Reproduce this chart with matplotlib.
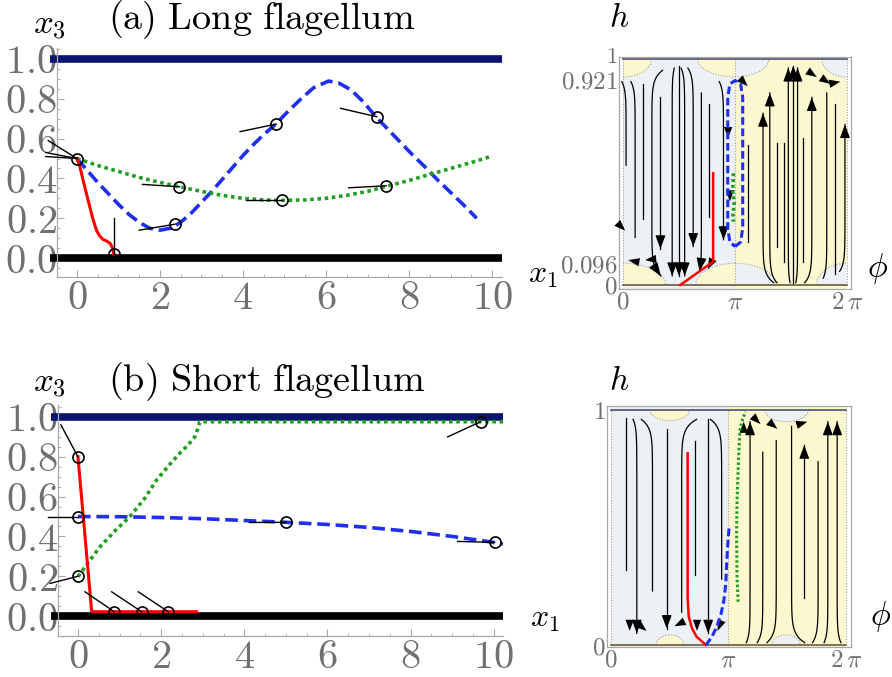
import numpy as np
import matplotlib
matplotlib.use("Agg")
import matplotlib.pyplot as plt
from matplotlib.transforms import ScaledTranslation

plt.rcParams['mathtext.fontset'] = 'cm'
plt.rcParams['font.family'] = ['DejaVu Serif']

W, H = 892, 677
PI = np.pi

# ---------------- data: panel (a) ----------------
blue_a_x = [0, 0.25, 0.5, 0.75, 1.0, 1.25, 1.5, 1.75, 2.0, 2.25, 2.5, 2.75, 3.0, 3.25, 3.5, 3.75, 4.0,
            4.25, 4.5, 4.8, 5.1, 5.4, 5.7, 6.06, 6.3, 6.6, 6.9, 7.2, 7.5, 7.8, 8.1, 8.4, 8.7, 9.0, 9.3, 9.63]
blue_a_y = [0.5, 0.44, 0.38, 0.325, 0.27, 0.22, 0.18, 0.15, 0.14, 0.15, 0.18, 0.225, 0.28, 0.335, 0.395,
            0.455, 0.515, 0.57, 0.62, 0.675, 0.74, 0.80, 0.855, 0.889, 0.88, 0.845, 0.785, 0.71, 0.645,
            0.58, 0.515, 0.455, 0.39, 0.33, 0.27, 0.20]
green_a_x = [0, 0.5, 1, 1.5, 2, 2.47, 3, 3.5, 4, 4.5, 4.93, 5.5, 6, 6.5, 7, 7.45, 8, 8.5, 9, 9.5, 9.95]
green_a_y = [0.5, 0.465, 0.435, 0.405, 0.38, 0.358, 0.335, 0.315, 0.3, 0.292, 0.29, 0.292, 0.3, 0.315,
             0.335, 0.36, 0.39, 0.42, 0.45, 0.48, 0.509]
red_a_x = [0, 0.07, 0.15, 0.27, 0.38, 0.47, 0.55, 0.63, 0.72, 0.8, 0.86, 0.89]
red_a_y = [0.5, 0.46, 0.39, 0.29, 0.2, 0.14, 0.11, 0.094, 0.085, 0.074, 0.05, 0.02]
circ_a_x = [0, 0.89, 2.47, 2.36, 4.8, 4.93, 7.22, 7.45]
circ_a_y = [0.5, 0.02, 0.358, 0.17, 0.673, 0.29, 0.71, 0.363]
seg_a_x0 = [0, 0, 0, 0.89, 2.47, 2.36, 4.8, 4.93, 7.22, 7.45]
seg_a_y0 = [0.5, 0.5, 0.5, 0.02, 0.358, 0.17, 0.673, 0.29, 0.71, 0.363]
seg_a_x1 = [-0.69, -0.75, -0.75, 0.89, 1.58, 1.5, 3.93, 4.07, 6.35, 6.55]
seg_a_y1 = [0.59, 0.53, 0.51, 0.2, 0.37, 0.14, 0.635, 0.29, 0.752, 0.353]

# ---------------- data: panel (b) ----------------
red_b_x = [0, 0.33, 2.85]
red_b_y = [0.8, 0.022, 0.022]
blue_b_x = [0, 1, 2, 3, 4, 5, 6, 7, 8, 9, 10, 10.22]
blue_b_y = [0.5, 0.499, 0.495, 0.489, 0.48, 0.471, 0.46, 0.445, 0.425, 0.4, 0.37, 0.362]
green_b_x = [0, 0.25, 0.53, 0.9, 1.25, 1.6, 1.89, 2.2, 2.45, 2.65, 2.81, 2.88, 2.93, 10.24]
green_b_y = [0.198, 0.27, 0.348, 0.43, 0.5, 0.59, 0.683, 0.76, 0.818, 0.86, 0.9, 0.94, 0.976, 0.976]
circ_b_x = [0, 0, 0, 0.87, 1.53, 2.17, 5.0, 10.02, 9.68]
circ_b_y = [0.8, 0.5, 0.2, 0.022, 0.022, 0.022, 0.471, 0.37, 0.976]
seg_b_x1 = [-0.41, -0.73, -0.67, 0.17, 0.81, 1.45, 4.12, 9.13, 8.89]
seg_b_y1 = [0.96, 0.5, 0.164, 0.122, 0.122, 0.122, 0.47, 0.375, 0.9]

# ---------------- data: phase plots ----------------
red_pa_phi = [1.61, 2.53, 2.53]
red_pa_h = [0.0, 0.103, 0.494]
blue_pa_phi = [3.15, 3.30, 3.36, 3.36, 3.30, 3.15, 3.00, 2.94, 2.94, 3.00, 3.15]
blue_pa_h = [0.17, 0.19, 0.25, 0.83, 0.89, 0.905, 0.89, 0.83, 0.25, 0.19, 0.17]
green_pa_phi = [3.10, 3.08, 3.12, 3.08, 3.10]
green_pa_h = [0.494, 0.42, 0.36, 0.30, 0.28]

red_pb_phi = [2.05, 2.05, 2.08, 2.17, 2.29, 2.54]
red_pb_h = [0.816, 0.20, 0.12, 0.07, 0.035, 0.0]
blue_pb_phi = [2.54, 2.70, 2.83, 2.94, 3.02, 3.07, 3.09, 3.12, 3.16]
blue_pb_h = [0.0, 0.035, 0.078, 0.13, 0.19, 0.26, 0.333, 0.42, 0.503]
green_pb_phi = [3.40, 3.37, 3.36, 3.37, 3.39, 3.42, 3.45, 3.52, 3.60]
green_pb_h = [0.184, 0.3, 0.475, 0.6, 0.70, 0.82, 0.915, 0.96, 0.993]

# streamlines: (phi, h_from, h_to, hook_start, hook_end, arrow)
stream_a = [
    (0.085, 0.90, 0.53, -0.12, 0, 0), (0.34, 0.90, 0.21, -0.12, 0, 0), (0.56, 0.89, 0.29, 0, 0, 0),
    (0.81, 0.95, 0.04, 0.3, 0.25, 1), (1.05, 0.83, 0.16, 0, 0, 1), (1.38, 0.96, 0.04, 0.06, 0, 1),
    (1.57, 0.97, 0.04, 0, 0, 1), (1.73, 0.96, 0.04, -0.1, 0, 1), (1.97, 0.96, 0.17, -0.15, 0, 1),
    (2.20, 0.85, 0.06, 0, -0.05, 1), (2.40, 0.80, 0.30, 0, 0, 0), (2.82, 0.90, 0.20, -0.12, 0, 1),
    (3.52, 0.19, 0.62, 0, 0, 0), (3.93, 0.01, 0.76, 0.3, 0, 1), (4.12, 0.01, 0.85, 0.2, 0, 1),
    (4.33, 0.17, 0.63, 0, 0, 0), (4.51, 0.10, 0.63, 0, 0, 0), (4.64, 0.01, 0.96, 0.05, 0, 1),
    (4.78, 0.01, 0.97, 0, 0, 1), (4.90, 0.01, 0.96, -0.05, 0, 1), (5.06, 0.10, 0.65, 0, 0, 0),
    (5.30, 0.01, 0.83, -0.2, 0, 1), (5.72, 0.03, 0.85, -0.1, 0, 0), (5.95, 0.05, 0.80, 0, 0, 0),
    (6.23, 0.06, 0.71, -0.15, 0, 1),
]
arrows_a = [(0.06, 0.24, 0.3, -0.3), (0.15, 0.11, -1, 0.2), (0.62, 0.11, -1, -0.1), (2.38, 0.07, -0.5, -1),
            (2.95, 0.65, 0, -1), (3.00, 0.37, 0, -1), (3.5, 0.88, 0.4, -0.4), (5.44, 0.92, 0.6, -0.4),
            (5.82, 0.89, 0.6, -0.4), (6.1, 0.90, 1, 0.2)]
stream_b = [
    (0.40, 0.965, 0.32, 0, 0, 0), (0.69, 0.96, 0.05, -0.1, 0, 1), (1.11, 0.96, 0.23, -0.3, 0, 0),
    (1.49, 0.92, 0.07, 0, 0, 1), (1.89, 0.96, 0.14, 0.4, 0, 0), (2.25, 0.87, 0.30, 0, 0, 0),
    (2.60, 0.96, 0.05, 0, 0, 1), (2.96, 0.96, 0.28, -0.3, 0, 0),
    (3.72, 0.01, 0.95, -0.1, 0, 1), (4.06, 0.01, 0.82, -0.15, 0, 0), (4.42, 0.01, 0.87, -0.25, 0, 0),
    (4.83, 0.01, 0.93, 0.35, 0, 0), (5.17, 0.20, 0.85, 0, 0, 1), (5.54, 0.01, 0.78, -0.15, 0, 0),
    (5.80, 0.01, 0.95, -0.1, 0, 1), (6.05, 0.01, 0.95, 0.1, 0, 1),
]
arrows_b = [(0.50, 0.06, 0, -1), (0.95, 0.06, 0.6, -0.5), (1.70, 0.08, -0.6, -0.3), (2.30, 0.06, 0, -1),
            (2.85, 0.06, -0.4, -1), (3.55, 0.95, 0, 1), (4.0, 0.94, 0.5, -0.5), (4.45, 0.92, 0.6, -0.5),
            (5.25, 0.95, 1, 0.3)]

# bumps: (center, half width, depth, top?, colour)
YEL = '#fbf8cf'
GRY = '#edf0f5'
bumps_a = [(0, 1.2, 0.096, 0, YEL), (PI, 1.1, 0.096, 0, 'L'), (0, 0.8, 0.079, 1, YEL), (PI, 1.05, 0.079, 1, 'L'),
           (PI, 1.15, 0.096, 0, 'R'), (2 * PI, 0.85, 0.096, 0, GRY), (PI, 0.95, 0.079, 1, 'R'),
           (2 * PI, 0.7, 0.079, 1, GRY)]
bumps_b = [(1.57, 0.53, 0.045, 1, YEL), (1.58, 0.37, 0.043, 0, YEL), (4.70, 0.58, 0.05, 1, GRY),
           (4.68, 0.38, 0.043, 0, GRY)]

COL_BLUE = '#1f2ff0'
COL_GREEN = '#1f9e1f'
COL_RED = '#ff0000'
COL_NAVY = '#0b1470'
TICKC = '#707070'
SPC = '#a8a8a8'


def rm(s):
    return r'$\mathrm{' + s + '}$'


fig = plt.figure(figsize=(W / 100, H / 100), dpi=100)


def left_panel(rect, xlim, ylim):
    ax = fig.add_axes(rect)
    ax.set_xlim(*xlim)
    ax.set_ylim(*ylim)
    for s in ['top', 'right']:
        ax.spines[s].set_visible(False)
    for s in ['left', 'bottom']:
        ax.spines[s].set_color(SPC)
        ax.spines[s].set_linewidth(0.9)
    ax.set_xticks([0, 2, 4, 6, 8, 10], [rm(str(v)) for v in [0, 2, 4, 6, 8, 10]])
    ax.set_yticks([0, 0.2, 0.4, 0.6, 0.8, 1.0], [rm('%.1f' % v) for v in [0, 0.2, 0.4, 0.6, 0.8, 1.0]])
    ax.set_xticks(np.arange(-0.0, 10.3, 0.5), minor=True)
    ax.set_yticks(np.arange(-0.05, 1.06, 0.05), minor=True)
    ax.tick_params(which='major', direction='in', length=5, color=SPC, labelcolor=TICKC, labelsize=29)
    ax.tick_params(which='minor', direction='in', length=2.5, color=SPC)
    ax.tick_params(axis='y', pad=0)
    ax.tick_params(axis='x', pad=2)
    ax.patch.set_alpha(0)
    return ax


# ---------- panel (a) left ----------
axA = left_panel([57 / W, 1 - 277 / H, 445 / W, 229 / H], (-0.48, 10.24), (-0.095, 1.055))
axA.plot([-0.65, 10.24], [1.0, 1.0], color=COL_NAVY, lw=5.5, solid_capstyle='butt', clip_on=False, zorder=2)
axA.plot([-0.65, 10.24], [0.0, 0.0], color='black', lw=5.5, solid_capstyle='butt', clip_on=False, zorder=2)
axA.plot(blue_a_x, blue_a_y, color=COL_BLUE, lw=2.6, ls=(0, (3.5, 1.6)), zorder=3)
axA.plot(green_a_x, green_a_y, color=COL_GREEN, lw=2.6, ls=(0, (1, 1)), zorder=3)
axA.plot(red_a_x, red_a_y, color=COL_RED, lw=2.2, zorder=3)
for x0, y0, x1, y1 in zip(seg_a_x0, seg_a_y0, seg_a_x1, seg_a_y1):
    axA.plot([x0, x1], [y0, y1], color='black', lw=1.0, clip_on=False, zorder=4)
axA.plot(circ_a_x, circ_a_y, 'o', mfc='none', mec='black', ms=8, mew=1.2, zorder=5, clip_on=False)

# ---------- panel (b) left ----------
axB = left_panel([58 / W, 1 - 636 / H, 445 / W, 231 / H], (-0.48, 10.22), (-0.1, 1.06))
axB.plot([-0.65, 10.22], [1.0, 1.0], color=COL_NAVY, lw=5.5, solid_capstyle='butt', clip_on=False, zorder=2)
axB.plot([-0.65, 10.22], [0.0, 0.0], color='black', lw=5.5, solid_capstyle='butt', clip_on=False, zorder=2)
axB.plot(blue_b_x, blue_b_y, color=COL_BLUE, lw=2.6, ls=(0, (3.5, 1.6)), zorder=3)
axB.plot(green_b_x, green_b_y, color=COL_GREEN, lw=2.6, ls=(0, (1, 1)), zorder=3)
axB.plot(red_b_x, red_b_y, color=COL_RED, lw=2.2, zorder=3)
for x0, y0, x1, y1 in zip(circ_b_x, circ_b_y, seg_b_x1, seg_b_y1):
    axB.plot([x0, x1], [y0, y1], color='black', lw=1.0, clip_on=False, zorder=4)
axB.plot(circ_b_x, circ_b_y, 'o', mfc='none', mec='black', ms=8, mew=1.2, zorder=5, clip_on=False)


# ---------- phase plots ----------
def draw_bump(ax, c, w, d, top, color, lo, hi):
    ph = np.linspace(max(c - w, lo), min(c + w, hi), 80)
    y = d * np.sqrt(np.clip(1 - ((ph - c) / w) ** 2, 0, 1))
    if top:
        ax.fill_between(ph, 1 - y, 1.0, color=color, lw=0, zorder=1)
        ax.plot(ph, 1 - y, color='#a0a0a0', lw=0.8, ls=(0, (1, 1.5)), zorder=1.5)
    else:
        ax.fill_between(ph, 0.0, y, color=color, lw=0, zorder=1)
        ax.plot(ph, y, color='#a0a0a0', lw=0.8, ls=(0, (1, 1.5)), zorder=1.5)


def draw_stream(ax, s):
    phi, h0, h1, hs, he, arrow = s
    hh = np.linspace(h0, h1, 120)
    pp = phi + hs * np.exp(-np.abs(hh - h0) / 0.035) + he * np.exp(-np.abs(hh - h1) / 0.035)
    ax.plot(pp, hh, color='black', lw=0.9, zorder=3)
    if arrow:
        ax.annotate('', xy=(pp[-1], hh[-1]), xytext=(pp[-6], hh[-6]),
                    arrowprops=dict(arrowstyle='-|>,head_length=0.8,head_width=0.3', color='black',
                                    lw=0.9, shrinkA=0, shrinkB=0), zorder=4)


def draw_arrow(ax, a, sx, sy):
    phi, h, dp, dh = a
    n = np.hypot(dp, dh)
    ax.annotate('', xy=(phi, h), xytext=(phi - sx * dp / n, h - sy * dh / n),
                arrowprops=dict(arrowstyle='-|>,head_length=0.8,head_width=0.3', color='black',
                                lw=0, shrinkA=0, shrinkB=0), zorder=4)


def phase_panel(rect, xlim, ylim, yt, ytl, bumps, streams, arrows):
    ax = fig.add_axes(rect)
    ax.set_xlim(*xlim)
    ax.set_ylim(*ylim)
    ax.axvspan(0, PI, ymin=0, ymax=1, color=GRY, lw=0, zorder=0)
    ax.axvspan(PI, 2 * PI, ymin=0, ymax=1, color=YEL, lw=0, zorder=0)
    for b in bumps:
        c, w, d, top, col = b
        if col == 'L':
            draw_bump(ax, c, w, d, top, YEL, 0, PI)
        elif col == 'R':
            draw_bump(ax, c, w, d, top, GRY, PI, 2 * PI)
        else:
            lo, hi = (0, PI) if c <= PI and col == YEL else (PI, 2 * PI)
            if c == 0:
                lo, hi = 0, PI
            draw_bump(ax, c, w, d, top, col, lo, hi)
    for xv in [0, PI, 2 * PI]:
        ax.plot([xv, xv], [0, 1], color='#a0a0a0', lw=0.8, ls=(0, (1, 1.5)), zorder=1.5)
    ax.plot([0, 2 * PI], [1, 1], color='#4a5070', lw=1.2, zorder=2)
    ax.plot([0, 2 * PI], [0, 0], color='#6a5a40', lw=1.2, zorder=2)
    for s in streams:
        draw_stream(ax, s)
    sx = (xlim[1] - xlim[0]) * 0.03
    sy = (ylim[1] - ylim[0]) * 0.03
    for a in arrows:
        draw_arrow(ax, a, sx, sy)
    for s in ax.spines.values():
        s.set_color(SPC)
        s.set_linewidth(0.9)
    ax.set_xticks([0, PI, 2 * PI], [rm('0'), r'$\pi$', r'$2\,\pi$'])
    ax.set_yticks(yt, ytl)
    ax.tick_params(length=0, labelcolor=TICKC, labelsize=18, pad=1)
    return ax


axPA = phase_panel([619 / W, 1 - 289 / H, 232 / W, 232 / H], (-0.113, 6.40), (-0.018, 1.009),
                   [0, 0.096, 0.921, 1], [rm('0'), rm('0.096'), rm('0.921'), rm('1')],
                   bumps_a, stream_a, arrows_a)
axPA.plot(red_pa_phi, red_pa_h, color=COL_RED, lw=1.8, zorder=5)
axPA.plot(blue_pa_phi, blue_pa_h, color=COL_BLUE, lw=2.2, ls=(0, (2.5, 1.2)), zorder=5)
axPA.plot(green_pa_phi, green_pa_h, color=COL_GREEN, lw=2.6, ls=(0, (0.8, 0.8)), zorder=5)
# nudge the closely stacked "1" / "0.921" labels apart a little
ylabs = axPA.get_yticklabels()
ylabs[3].set_transform(ylabs[3].get_transform() + ScaledTranslation(0, 3 / 72, fig.dpi_scale_trans))
ylabs[2].set_transform(ylabs[2].get_transform() + ScaledTranslation(0, -2 / 72, fig.dpi_scale_trans))
ylabs[3].set_fontsize(16)

axPB = phase_panel([607 / W, 1 - 647 / H, 244 / W, 241 / H], (-0.107, 6.42), (-0.0085, 1.017),
                   [0, 1], [rm('0'), rm('1')], bumps_b, stream_b, arrows_b)
axPB.plot(red_pb_phi, red_pb_h, color=COL_RED, lw=1.8, zorder=5)
axPB.plot(blue_pb_phi, blue_pb_h, color=COL_BLUE, lw=2.2, ls=(0, (2.5, 1.2)), zorder=5)
axPB.plot(green_pb_phi, green_pb_h, color=COL_GREEN, lw=2.2, ls=(0, (0.8, 0.8)), zorder=5)


# ---------- text ----------
def ftext(px, py, s, size, color='black', ha='center', va='center'):
    fig.text(px / W, 1 - py / H, s, fontsize=size, color=color, ha=ha, va=va)


ftext(49, 25, r'$x_3$', 25)
ftext(262, 20, rm(r'(a)\ Long\ flagellum'), 27.5)
ftext(49, 383, r'$x_3$', 25)
ftext(267, 382, rm(r'(b)\ Short\ flagellum'), 27.5)
ftext(543, 275, r'$x_1$', 23)
ftext(545, 618, r'$x_1$', 23)
ftext(619, 18, r'$h$', 24)
ftext(619, 381, r'$h$', 24)
ftext(878, 269, r'$\phi$', 24)
ftext(881, 616, r'$\phi$', 24)

fig.savefig('out.png', dpi=100)
